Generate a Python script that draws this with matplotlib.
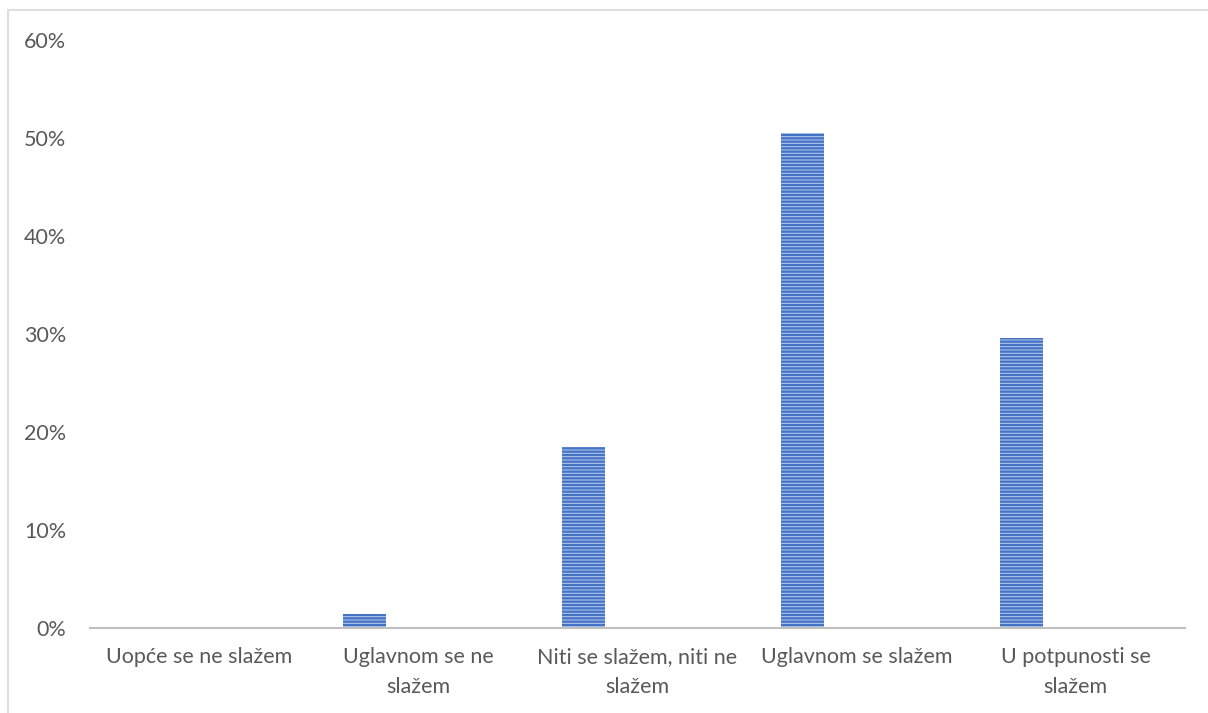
import matplotlib.pyplot as plt
import numpy as np
from matplotlib.patches import Rectangle

categories = ["Uopće se ne slažem", "Uglavnom se ne\nslažem", "Niti se slažem, niti ne\nslažem",
              "Uglavnom se slažem", "U potpunosti se\nslažem"]
values = [0.0, 0.014, 0.185, 0.505, 0.296]
yticks = [0, 0.1, 0.2, 0.3, 0.4, 0.5, 0.6]

plt.rcParams['font.family'] = ['Lato', 'DejaVu Sans']
plt.rcParams['hatch.linewidth'] = 1.6
txt = '#595959'

fig = plt.figure(figsize=(12.08, 7.13), dpi=100)
# outer frame of the chart
fig.patches.append(Rectangle((8/1208, -0.1), 1.2, 1.1 - 10/713, transform=fig.transFigure,
                             fill=False, edgecolor='#d9d9d9', linewidth=1.2))
ax = fig.add_axes([90/1208, 1 - 628/713, (1185-90)/1208, (628-40)/713])

x = np.arange(len(categories))
# excel clustered layout: bar sits left of the category centre
ax.bar(x - 0.245, values, width=0.197, color='#aec3ea', edgecolor='#4472c4', hatch='-----', linewidth=0)
ax.set_xlim(-0.5, len(categories) - 0.5)
ax.set_ylim(0, 0.6)
ax.set_yticks(yticks)
ax.set_yticklabels([f"{int(round(v*100))}%" for v in yticks], color=txt, fontsize=15.5)
ax.set_xticks(x)
ax.set_xticklabels(categories, color=txt, fontsize=15.5, linespacing=1.6)
ax.tick_params(axis='both', length=0)
ax.tick_params(axis='y', pad=17)
ax.tick_params(axis='x', pad=14)
for s in ['top', 'right', 'left']:
    ax.spines[s].set_visible(False)
ax.spines['bottom'].set_color('#bfbfbf')
ax.spines['bottom'].set_linewidth(1.5)

fig.savefig('out.png', dpi=100)
